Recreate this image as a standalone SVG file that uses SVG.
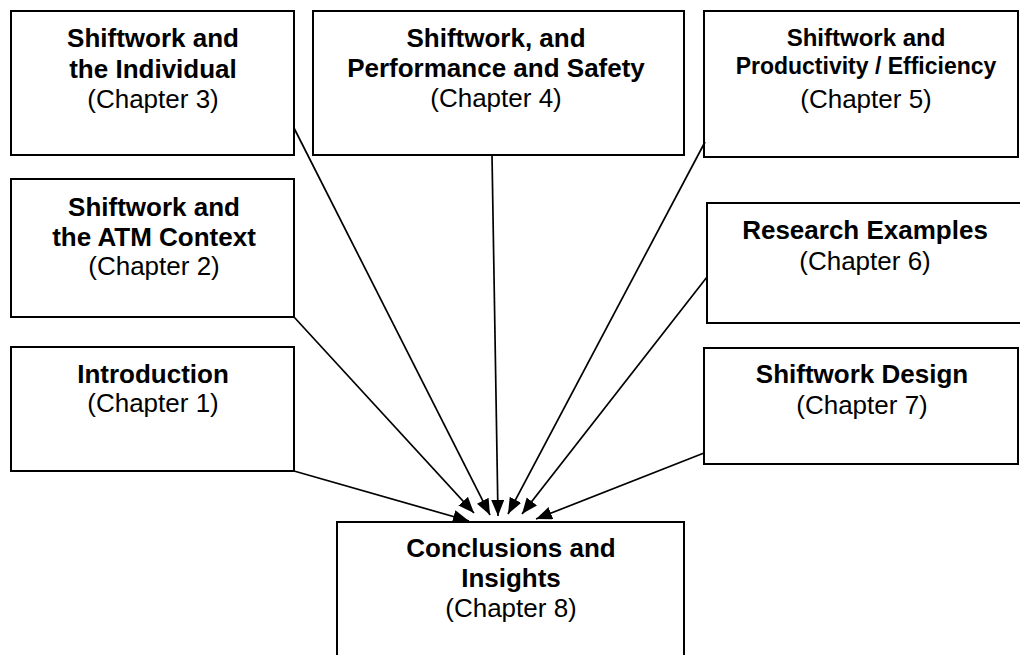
<svg xmlns="http://www.w3.org/2000/svg" width="1020" height="655" viewBox="0 0 1020 655">
  <style>
    .box { fill: #ffffff; stroke: #000000; stroke-width: 2; }
    .t { font-family: "Liberation Sans", Arial, sans-serif; font-size: 26px; font-weight: bold; text-anchor: middle; fill: #000; }
    .c { font-family: "Liberation Sans", Arial, sans-serif; font-size: 26px; text-anchor: middle; fill: #000; }
    .conn { stroke: #000; stroke-width: 1.7; fill: none; marker-end: url(#arrow); }
  </style>
  <defs>
    <marker id="arrow" markerUnits="userSpaceOnUse" markerWidth="18" markerHeight="14" refX="16" refY="6.5" orient="auto">
      <path d="M0,0 L16,6.5 L0,13 z" fill="#000"/>
    </marker>
  </defs>
  <rect width="1020" height="655" fill="#ffffff"/>

  <g id="ch3">
    <rect class="box" x="11" y="11" width="283" height="144"/>
    <text class="t" x="153" y="47">Shiftwork and</text>
    <text class="t" x="153" y="78">the Individual</text>
    <text class="c" x="153" y="108">(Chapter 3)</text>
  </g>
  <g id="ch4">
    <rect class="box" x="313" y="11" width="371" height="144"/>
    <text class="t" x="496" y="47">Shiftwork, and</text>
    <text class="t" x="496" y="77">Performance and Safety</text>
    <text class="c" x="496" y="107">(Chapter 4)</text>
  </g>
  <g id="ch5">
    <rect class="box" x="704" y="11" width="314" height="146"/>
    <text class="t" x="866" y="46" style="font-size:24px">Shiftwork and</text>
    <text class="t" x="866" y="74" style="font-size:23px">Productivity / Efficiency</text>
    <text class="c" x="866" y="108">(Chapter 5)</text>
  </g>
  <g id="ch2">
    <rect class="box" x="11" y="179" width="283" height="138"/>
    <text class="t" x="154" y="216">Shiftwork and</text>
    <text class="t" x="154" y="246">the ATM Context</text>
    <text class="c" x="154" y="275">(Chapter 2)</text>
  </g>
  <g id="ch6">
    <rect class="box" x="707" y="203" width="320" height="120"/>
    <text class="t" x="865" y="239">Research Examples</text>
    <text class="c" x="865" y="270">(Chapter 6)</text>
  </g>
  <g id="ch1">
    <rect class="box" x="11" y="347" width="283" height="124"/>
    <text class="t" x="153" y="383">Introduction</text>
    <text class="c" x="153" y="412">(Chapter 1)</text>
  </g>
  <g id="ch7">
    <rect class="box" x="704" y="348" width="314" height="116"/>
    <text class="t" x="862" y="383">Shiftwork Design</text>
    <text class="c" x="862" y="414">(Chapter 7)</text>
  </g>
  <g id="ch8">
    <rect class="box" x="337" y="522" width="347" height="145"/>
    <text class="t" x="511" y="557">Conclusions and</text>
    <text class="t" x="511" y="587">Insights</text>
    <text class="c" x="511" y="617">(Chapter 8)</text>
  </g>

  <g id="connectors">
    <line class="conn" x1="294" y1="471" x2="469" y2="521"/>
    <line class="conn" x1="294" y1="317" x2="474" y2="513"/>
    <line class="conn" x1="294" y1="128" x2="490" y2="515"/>
    <line class="conn" x1="492" y1="155" x2="498" y2="516"/>
    <line class="conn" x1="705" y1="142" x2="508" y2="514"/>
    <line class="conn" x1="707" y1="277" x2="522" y2="514"/>
    <line class="conn" x1="704" y1="453" x2="536" y2="519"/>
  </g>
</svg>
